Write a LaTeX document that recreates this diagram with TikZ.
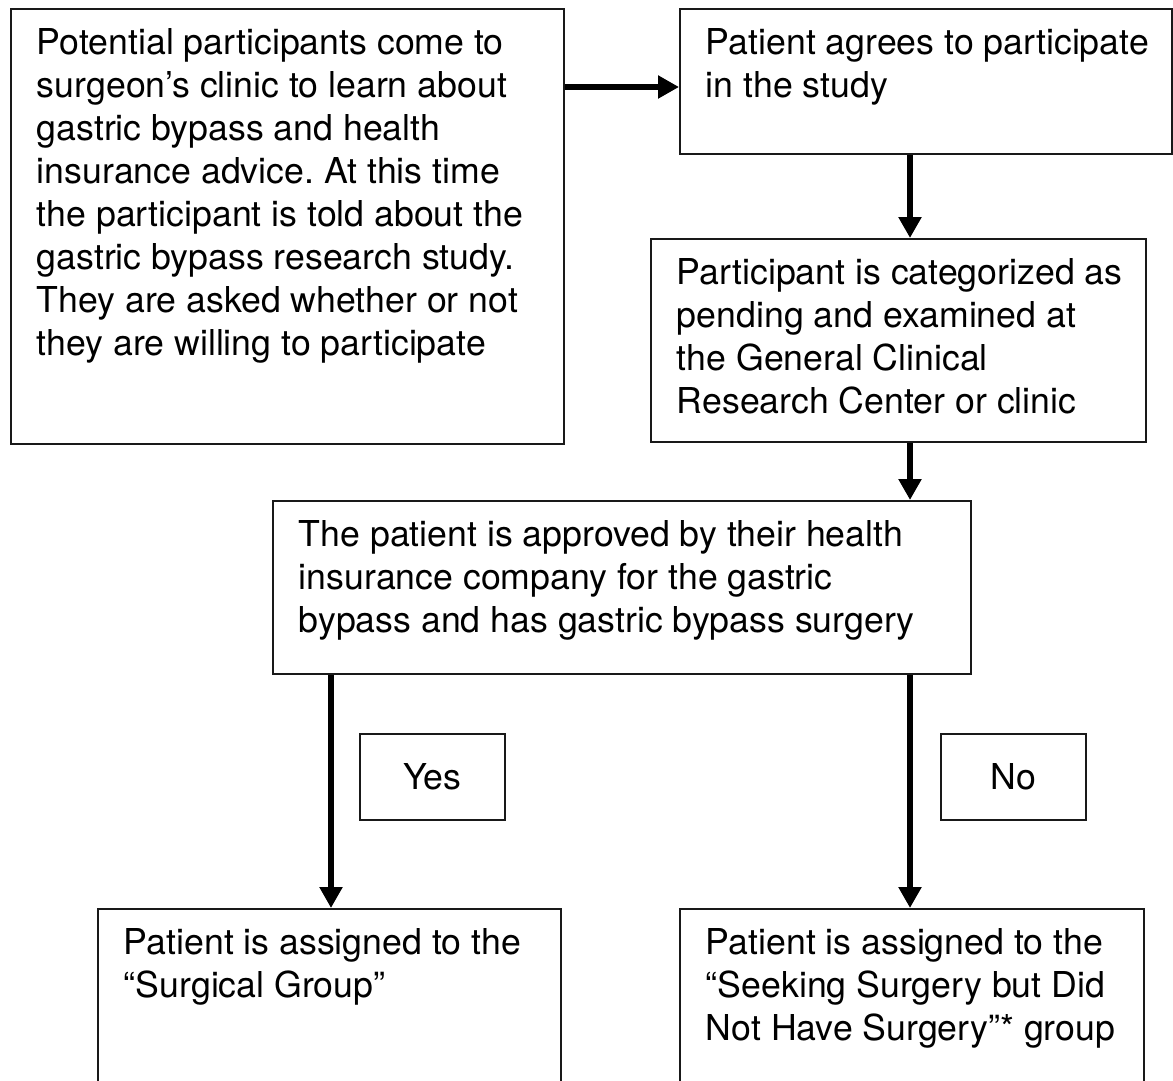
\documentclass[tikz,border=0pt]{standalone}
\usepackage{fontspec}
\setmainfont{TeX Gyre Heros}
\usetikzlibrary{arrows.meta,positioning}
\frenchspacing

% top-aligned text in a box of given width and height
\newcommand{\boxtext}[3]{\parbox[c][#2][t]{#1}{\raggedright\leftskip=0.52cm\rule{0pt}{0.92cm}#3}}

\begin{document}
\begin{tikzpicture}[
    x=0.02cm, y=-0.02cm,
    block/.style={rectangle, draw=black!90, line width=1.1pt, inner sep=0pt, anchor=north west,
        font=\fontsize{20.3}{24.4}\selectfont},
    answer/.style={rectangle, draw=black!90, line width=1.1pt, anchor=north west,
        minimum width=2.9cm, minimum height=1.72cm, font=\fontsize{20.3}{24.4}\selectfont},
    line/.style={draw, line width=3.5pt, -{Triangle[length=0.42cm, width=0.44cm]}}
]
\clip (0,0) rectangle (1173,1081);

% Define nodes
\node[block] (visit) at (10,8) {\boxtext{11.06cm}{8.7cm}{Potential participants come to\\
surgeon’s clinic to learn about\\
gastric bypass and health\\
insurance advice. At this time\\
the participant is told about the\\
gastric bypass research study.\\
They are asked whether or not\\
they are willing to participate}};
\node[block] (agree) at (679,8) {\boxtext{9.84cm}{2.9cm}{Patient agrees to participate\\
in the study}};
\node[block] (exam) at (650,238) {\boxtext{9.9cm}{4.06cm}{Participant is categorized as\\
pending and examined at\\
the General Clinical\\
Research Center or clinic}};
\node[block] (approve) at (272,500) {\boxtext{13.96cm}{3.46cm}{The patient is approved by their health\\
insurance company for the gastric\\
bypass and has gastric bypass surgery}};
\node[answer] (yes) at (359,733) {Yes};
\node[answer] (no) at (940,733) {No};
\node[block] (surgical) at (97,908) {\boxtext{9.26cm}{4cm}{Patient is assigned to the\\
“Surgical Group”}};
\node[block] (seeking) at (679,908) {\boxtext{9.28cm}{4cm}{Patient is assigned to the\\
“Seeking Surgery but Did\\
Not Have Surgery”* group}};

\coordinate (hline) at (0,87);
\coordinate (lspine) at (331,0);
\coordinate (rspine) at (910,0);

% Connect nodes
\draw [line] (visit.east |- hline) -- (agree.west |- hline);
\draw [line] (agree.south -| rspine) -- (exam.north -| rspine);
\draw [line] (exam.south -| rspine) -- (approve.north -| rspine);
\draw [line] (approve.south -| lspine) -- (surgical.north -| lspine);
\draw [line] (approve.south -| rspine) -- (seeking.north -| rspine);

\end{tikzpicture}
\end{document}
